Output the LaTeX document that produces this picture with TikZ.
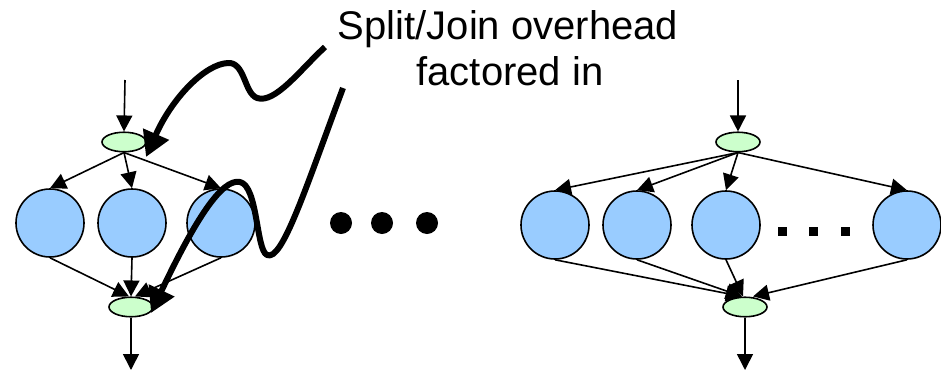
\documentclass[tikz,border=0pt]{standalone}
\usepackage{fontspec}
\setmainfont{Liberation Sans}
\usetikzlibrary{arrows.meta,shapes.geometric}
\definecolor{sjgreen}{HTML}{CCFFCC}
\definecolor{filterblue}{HTML}{99CCFF}
\begin{document}
\begin{tikzpicture}[x=1pt,y=-1pt,
  sjnode/.style={ellipse, draw, line width=1.6pt, fill=sjgreen,
    minimum width=44pt, minimum height=19.5pt, inner sep=0pt},
  filter/.style={circle, draw, line width=1.6pt, fill=filterblue,
    minimum size=68pt, inner sep=0pt},
  flow/.style={line width=1.6pt, -{Triangle[length=16pt,width=16pt]}},
  squiggle/.style={line width=6pt, line join=round,
    -{Triangle[length=25pt,width=27pt]}},
  label/.style={font=\fontsize{40}{46}\selectfont, inner sep=0pt, anchor=base}
]
\useasboundingbox (0,0) rectangle (941,372);

% ---------- data-parallel split/join, three filters ----------
\coordinate (inA)  at (125,80);
\coordinate (outA) at (131,370);
\node[sjnode] (splitA) at (124,142) {};
\node[filter] (a1) at (50,223) {};
\node[filter] (a2) at (132,223) {};
\node[filter] (a3) at (221,223) {};
\node[sjnode] (joinA) at (131,307) {};

\draw[flow] (inA) -- (splitA.north);
\draw[flow] (splitA.south) -- (a1.north);
\draw[flow] (splitA.south) -- (a2.north);
\draw[flow] (splitA.south) -- (a3.north);
\draw[flow] (a1.south) -- ([xshift=-2pt]joinA.north);
\draw[flow] (a2.south) -- (joinA.north);
\draw[flow] (a3.south) -- ([xshift=4pt]joinA.north);
\draw[flow] (joinA.south) -- (outA);

% ---------- ellipsis between the two graphs ----------
\fill (341,223) circle[radius=11pt];
\fill (382,223) circle[radius=11pt];
\fill (427,223) circle[radius=11pt];

% ---------- data-parallel split/join, many filters ----------
\coordinate (inB)  at (738,80);
\coordinate (outB) at (745,370);
\node[sjnode] (splitB) at (738,142) {};
\node[filter] (b1) at (555,225) {};
\node[filter] (b2) at (637,225) {};
\node[filter] (b3) at (726,225) {};
\node[filter] (b4) at (907,225) {};
\node[sjnode] (joinB) at (745,307) {};

\fill (777.5,226.5) rectangle +(9,9);
\fill (808.5,226.5) rectangle +(9,9);
\fill (840.5,226.5) rectangle +(9,9);

\draw[flow] (inB) -- (splitB.north);
\draw[flow] (splitB.south) -- (b1.north);
\draw[flow] (splitB.south) -- (b2.north);
\draw[flow] (splitB.south) -- (b3.north);
\draw[flow] (splitB.south) -- (b4.north);
\draw[flow] (b1.south) -- ([xshift=-3pt]joinB.north);
\draw[flow] (b2.south) -- ([xshift=-3pt]joinB.north);
\draw[flow] (b3.south) -- ([xshift=-2pt]joinB.north);
\draw[flow] (b4.south) -- ([xshift=8pt]joinB.north);
\draw[flow] (joinB.south) -- (outB);

% ---------- annotation ----------
\node[label] (note1) at (508,39) {Split/Join overhead};
\node[label] (note2) at (510,85) {factored in};

\coordinate (s1) at (325,47);
\coordinate (s2) at (343,88);
\draw[squiggle] (s1) .. controls (300,70) and (275,104) .. (257,98)
  .. controls (244,93) and (245,62) .. (228,63)
  .. controls (205,64) and (172,98) .. ([xshift=22pt,yshift=-15pt]splitA.center);
\draw[squiggle] (s2) .. controls (305,190) and (282,262) .. (267,255)
  .. controls (256,250) and (258,186) .. (240,182)
  .. controls (222,178) and (195,220) .. ([xshift=20pt,yshift=-6pt]joinA.center);
\end{tikzpicture}
\end{document}
